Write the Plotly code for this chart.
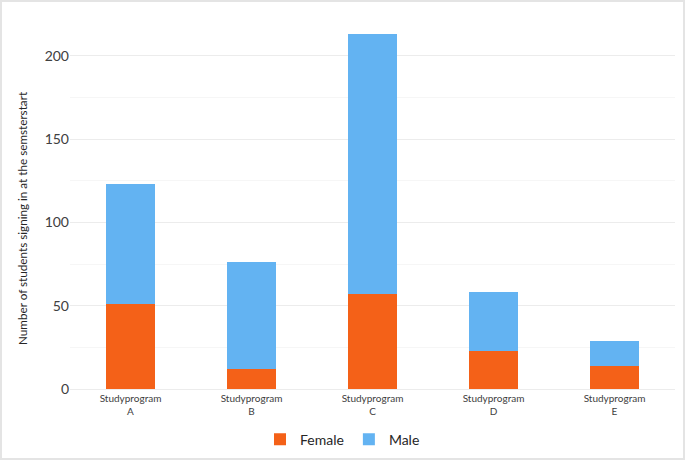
import plotly.graph_objects as go

programs = ["Studyprogram<br>A", "Studyprogram<br>B", "Studyprogram<br>C",
            "Studyprogram<br>D", "Studyprogram<br>E"]
female = [51, 12, 57, 23, 14]
male = [72, 64, 156, 35, 15]

C_FEMALE = "#f46118"
C_MALE = "#63b3f2"

W, H = 685, 460
L, R, T, B = 70, 10, 14, 71

fig = go.Figure()
fig.add_trace(go.Bar(x=programs, y=female, name="Female", marker=dict(color=C_FEMALE, line=dict(width=0))))
fig.add_trace(go.Bar(x=programs, y=male, name="Male", marker=dict(color=C_MALE, line=dict(width=0))))

# light frame round the whole picture
pw = W - L - R
ph = H - T - B
fig.add_shape(type="rect", xref="paper", yref="paper",
              x0=-(L - 1) / pw, x1=1 + (R - 1) / pw, y0=-(B - 1) / ph, y1=1 + (T - 1) / ph,
              line=dict(color="#e4e4e4", width=2), layer="below")

# y title sits a bit below the plot centre in the original, so use an annotation
fig.add_annotation(text="Number of students signing in at the semsterstart",
                   xref="paper", yref="paper", x=(22 - L) / pw, y=(389 - 218) / ph,
                   xanchor="center", yanchor="middle", textangle=-90, showarrow=False,
                   font=dict(size=11.7, color="#262626"))

fig.update_layout(
    width=W, height=H,
    margin=dict(l=L, r=R, t=T, b=B, autoexpand=False),
    barmode="stack",
    bargap=0.6,
    plot_bgcolor="white",
    paper_bgcolor="white",
    font=dict(family="Lato, sans-serif", color="#404040"),
    legend=dict(orientation="h", x=(W / 2 - L) / pw, xanchor="center", y=-0.135, yanchor="middle",
                font=dict(size=14, color="#262626"), traceorder="normal",
                itemwidth=30, tracegroupgap=0),
    xaxis=dict(tickfont=dict(size=10, color="#404040"), showgrid=False, automargin=False,
               showline=True, linecolor="#ececec", ticks=""),
    yaxis=dict(range=[0, 225], tickvals=[0, 50, 100, 150, 200], automargin=False,
               tickfont=dict(size=14, color="#404040"),
               gridcolor="#ececec", zeroline=False, ticks="",
               minor=dict(tickvals=[25, 75, 125, 175, 225], showgrid=True, gridcolor="#f6f6f6")),
)

fig.write_html("out.html", config={"displayModeBar": False},
               post_script="document.body.style.margin='0';")
